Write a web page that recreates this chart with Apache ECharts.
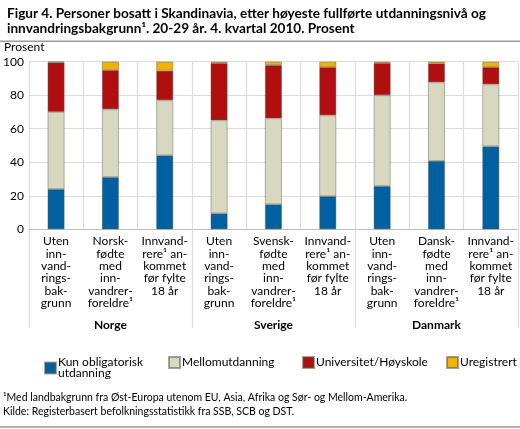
<!DOCTYPE html>
<html><head><meta charset="utf-8">
<script src="https://cdn.jsdelivr.net/npm/echarts@6/dist/echarts.min.js"></script>
<style>html,body{margin:0;padding:0;background:#fff}#c{width:520px;height:429px}</style>
</head><body><div id="c"></div>
<script>
const categories = [
  "Uten\ninn-\nvand-\nrings-\nbak-\ngrunn",
  "Norsk-\nfødte\nmed\ninn-\nvandrer-\nforeldre¹",
  "Innvand-\nrere¹ an-\nkommet\nfør fylte\n18 år",
  "Uten\ninn-\nvand-\nrings-\nbak-\ngrunn",
  "Svensk-\nfødte\nmed\ninn-\nvandrer-\nforeldre¹",
  "Innvand-\nrere¹ an-\nkommet\nfør fylte\n18 år",
  "Uten\ninn-\nvand-\nrings-\nbak-\ngrunn",
  "Dansk-\nfødte\nmed\ninn-\nvandrer-\nforeldre¹",
  "Innvand-\nrere¹ an-\nkommet\nfør fylte\n18 år"
];
const groups = ["Norge", "Sverige", "Danmark"];
const kunObligatorisk = [24.0, 31.2, 44.1, 9.5, 14.9, 19.7, 25.8, 40.8, 49.5];
const mellomutdanning = [46.0, 40.4, 32.9, 55.5, 51.3, 48.3, 54.2, 46.9, 37.0];
const universitet     = [29.6, 23.4, 17.6, 34.2, 31.8, 28.8, 19.2, 11.3, 10.3];
const uregistrert     = [0.4, 5.0, 5.4, 0.8, 2.0, 3.2, 0.8, 1.0, 3.2];
const yTicks = [0, 20, 40, 60, 80, 100];

const seriesNames = ["Kun obligatorisk\nutdanning", "Mellomutdanning", "Universitet/Høyskole", "Uregistrert"];
const colors = ["#0060a0", "#d8d7bf", "#b10e10", "#f2b200"];
const dataSets = [kunObligatorisk, mellomutdanning, universitet, uregistrert];
const FONT = "Lato";
const chart = echarts.init(document.getElementById('c'), null, {renderer: 'canvas'});
const grid = {left: 26, right: 2, top: 61.7, bottom: 199.7, containLabel: false};
const legendLefts = [39, 163, 297, 441];

chart.setOption({
  animation: false,
  textStyle: {fontFamily: FONT},
  title: {
    left: 2, top: 1,
    text: "{r|Figur 4. }{b|Personer bosatt i Skandinavia, etter høyeste fullførte utdanningsnivå og}\n{b|innvandringsbakgrunn¹. 20-29 år. 4. kvartal 2010. Prosent}",
    textStyle: {
      rich: {
        r: {fontFamily: FONT, fontSize: 13.6, color: '#000', lineHeight: 15},
        b: {fontFamily: FONT, fontSize: 13.6, fontWeight: 'bold', color: '#000', lineHeight: 15}
      }
    }
  },
  legend: seriesNames.map((n, i) => ({
    data: [n], left: legendLefts[i], top: 351, orient: 'horizontal',
    itemWidth: 11, itemHeight: 11, itemGap: 0, icon: 'rect',
    textStyle: {fontFamily: FONT, fontSize: 12, color: '#000', padding: [2, 0, 0, -3], lineHeight: 11},
    selectedMode: false
  })),
  grid: grid,
  xAxis: [{
    type: 'category', data: categories, gridIndex: 0,
    axisLine: {lineStyle: {color: '#bdbdbd', width: 1}},
    axisTick: {show: false},
    splitLine: {show: true, lineStyle: {color: '#dcdcdc', width: 1.2}},
    axisLabel: {interval: 0, margin: 6, fontFamily: FONT, fontSize: 12, color: '#000', lineHeight: 12.3, align: 'center'}
  }, {
    type: 'category', data: groups, gridIndex: 0, position: 'bottom',
    axisLine: {show: false},
    axisTick: {show: true, length: 99, lineStyle: {color: '#dcdcdc', width: 1.2}},
    axisLabel: {margin: 90, fontFamily: FONT, fontSize: 12, fontWeight: 'bold', color: '#000'}
  }],
  yAxis: {
    type: 'value', min: 0, max: 100, interval: 20,
    axisLine: {show: false}, axisTick: {show: false},
    splitLine: {lineStyle: {color: '#dcdcdc', width: 1.2}},
    axisLabel: {margin: 5, fontFamily: FONT, fontSize: 12, color: '#000',
      formatter: v => yTicks.includes(v) ? String(v) : ''}
  },
  series: seriesNames.map((n, i) => ({
    name: n, type: 'bar', stack: 'tot', xAxisIndex: 0, barWidth: 17,
    data: dataSets[i],
    itemStyle: {color: colors[i], borderColor: 'rgba(90,90,70,0.55)', borderWidth: 0.8}
  })),
  graphic: [
    {type: 'line', shape: {x1: 0, y1: 41.3, x2: 520, y2: 41.3}, style: {stroke: '#9a9a9a', lineWidth: 1.5}},
    {type: 'text', left: 4, top: 41.5, style: {text: 'Prosent', font: '12px ' + FONT, fill: '#000'}},
    {type: 'text', left: 3, top: 392, style: {text: '¹Med landbakgrunn fra Øst-Europa utenom EU, Asia, Afrika og Sør- og Mellom-Amerika.', font: '10.5px ' + FONT, fill: '#000'}},
    {type: 'text', left: 3, top: 406, style: {text: 'Kilde: Registerbasert befolkningsstatistikk fra SSB, SCB og DST.', font: '10.5px ' + FONT, fill: '#000'}},
    {type: 'line', shape: {x1: 0, y1: 427, x2: 520, y2: 427}, style: {stroke: '#9a9a9a', lineWidth: 1.5}}
  ]
});
</script></body></html>
